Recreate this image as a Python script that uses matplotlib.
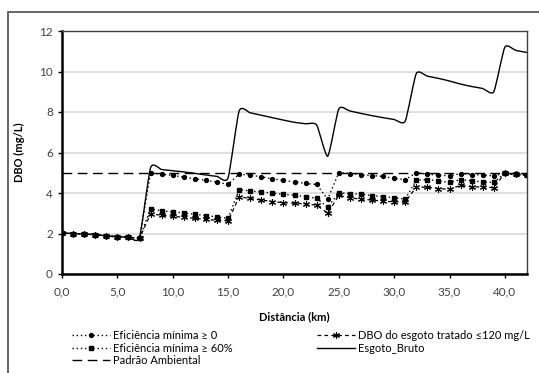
import numpy as np
from matplotlib import pyplot as plt
from matplotlib.path import Path
from matplotlib.patches import PathPatch, Rectangle
from matplotlib.lines import Line2D

plt.rcParams['font.family'] = ['Lato', 'DejaVu Sans']
plt.rcParams['font.size'] = 8

# Distance along the river (km)
distancia = list(range(0, 43))

# DBO (mg/L), one value per km
eficiencia_0 = [2.02, 2.00, 1.98, 1.95, 1.88, 1.84, 1.82, 1.76,
                4.99, 4.93, 4.87, 4.78, 4.70, 4.63, 4.53, 4.43,
                4.93, 4.88, 4.80, 4.70, 4.62, 4.55, 4.47, 4.42,
                3.69,
                5.01, 4.96, 4.90, 4.86, 4.82, 4.72, 4.66,
                5.00, 4.93, 4.88, 4.85, 4.96, 4.91, 4.88, 4.85,
                4.98, 4.92, 4.88]

eficiencia_60 = [2.02, 2.00, 1.98, 1.95, 1.88, 1.84, 1.82, 1.76,
                 3.22, 3.12, 3.06, 3.02, 2.95, 2.88, 2.82, 2.75,
                 4.17, 4.10, 4.05, 4.00, 3.93, 3.89, 3.82, 3.74,
                 3.29,
                 4.02, 3.97, 3.94, 3.87, 3.82, 3.77, 3.70,
                 4.63, 4.66, 4.60, 4.52, 4.66, 4.60, 4.55, 4.52,
                 4.98, 4.92, 4.88]

dbo_tratado = [2.02, 2.00, 1.98, 1.95, 1.88, 1.84, 1.82, 1.76,
               2.97, 2.90, 2.85, 2.80, 2.75, 2.70, 2.65, 2.62,
               3.81, 3.73, 3.65, 3.58, 3.52, 3.50, 3.46, 3.40,
               3.00,
               3.88, 3.76, 3.70, 3.65, 3.60, 3.56, 3.55,
               4.30, 4.28, 4.22, 4.18, 4.38, 4.30, 4.30, 4.26,
               4.98, 4.92, 4.88]

esgoto_bruto = [2.02, 2.00, 1.97, 1.94, 1.88, 1.84, 1.82, 1.80,
                5.25, 5.16, 5.10, 5.04, 4.97, 4.89, 4.82, 4.75,
                8.05, 7.96, 7.84, 7.72, 7.60, 7.49, 7.42, 7.36,
                5.82,
                8.15, 8.05, 7.93, 7.82, 7.72, 7.63, 7.55,
                9.90, 9.77, 9.66, 9.53, 9.38, 9.26, 9.16, 9.00,
                11.20, 11.04, 10.94]

padrao_ambiental = 5.0

x_ticks = [0, 5, 10, 15, 20, 25, 30, 35, 40]
x_tick_labels = ["0,0", "5,0", "10,0", "15,0", "20,0", "25,0", "30,0", "35,0", "40,0"]
y_ticks = [0, 2, 4, 6, 8, 10, 12]


def smooth_path(xs, ys, t=0.1):
    # Bezier path like the "smoothed line" option of a spreadsheet chart
    verts = [(xs[0], ys[0])]
    codes = [Path.MOVETO]
    n = len(xs)
    for i in range(n - 1):
        x0, y0 = xs[max(i - 1, 0)], ys[max(i - 1, 0)]
        x1, y1 = xs[i], ys[i]
        x2, y2 = xs[i + 1], ys[i + 1]
        x3, y3 = xs[min(i + 2, n - 1)], ys[min(i + 2, n - 1)]
        verts.append((x1 + (x2 - x0) * t, y1 + (y2 - y0) * t))
        verts.append((x2 - (x3 - x1) * t, y2 - (y3 - y1) * t))
        verts.append((x2, y2))
        codes += [Path.CURVE4] * 3
    return Path(verts, codes)


fig = plt.figure(figsize=(5.39, 3.73), dpi=100)
ax = fig.add_axes([62 / 539, 1 - 274 / 373, 465 / 539, 243 / 373])

# Outer chart border (cropped at right/bottom)
fig.patches.append(Rectangle((8 / 539, -0.05), 1.1, 1 - 12 / 373 + 0.05,
                             transform=fig.transFigure, fill=False,
                             edgecolor='#595959', linewidth=1.3))

ax.plot(distancia, eficiencia_0, color='black', linestyle=(0, (1, 2)), linewidth=1,
        marker='o', markersize=2.8, label='Eficiência mínima ≥ 0')
ax.plot(distancia, eficiencia_60, color='black', linestyle=(0, (1, 2)), linewidth=1,
        marker='s', markersize=2.8, label='Eficiência mínima ≥ 60%')
ax.axhline(padrao_ambiental, color='black', linestyle=(0, (7, 4)), linewidth=1,
           label='Padrão Ambiental')
ax.plot(distancia, dbo_tratado, color='black', linestyle=(0, (3, 2.5)), linewidth=0.9,
        marker=(6, 2, 0), markersize=5, markeredgewidth=0.8,
        label='DBO do esgoto tratado ≤120 mg/L')

ax.add_patch(PathPatch(smooth_path(distancia, esgoto_bruto), facecolor='none',
                       edgecolor='black', linewidth=1, clip_on=False))

ax.set_xlim(0, 42)
ax.set_ylim(0, 12)
ax.set_xticks(x_ticks)
ax.set_xticklabels(x_tick_labels)
ax.set_yticks(y_ticks)
ax.grid(axis='y', color='#d9d9d9', linewidth=1.2)
ax.set_axisbelow(True)
ax.tick_params(length=3, width=1, color='black', labelsize=8.5, labelcolor='#404040')
ax.tick_params(axis='x', pad=6)

for side in ['left', 'bottom']:
    ax.spines[side].set_linewidth(1.8)
    ax.spines[side].set_color('black')
for side in ['top', 'right']:
    ax.spines[side].set_linewidth(1)
    ax.spines[side].set_color('#404040')

ax.set_xlabel('Distância (km)', fontweight='bold', fontsize=8, labelpad=10)
ax.set_ylabel('DBO (mg/L)', fontweight='bold', fontsize=8, labelpad=10)

handles, labels = ax.get_legend_handles_labels()
handles.append(Line2D([], [], color='black', linewidth=1))
labels.append('Esgoto_Bruto')
fig.legend(handles, labels, loc='upper left', bbox_to_anchor=(72 / 539, 1 - 330 / 373),
           ncol=2, frameon=False, fontsize=8, handlelength=3.4, handletextpad=0.3,
           labelspacing=0.15, columnspacing=7.6, borderaxespad=0, borderpad=0)

fig.savefig('out.png', dpi=100)
